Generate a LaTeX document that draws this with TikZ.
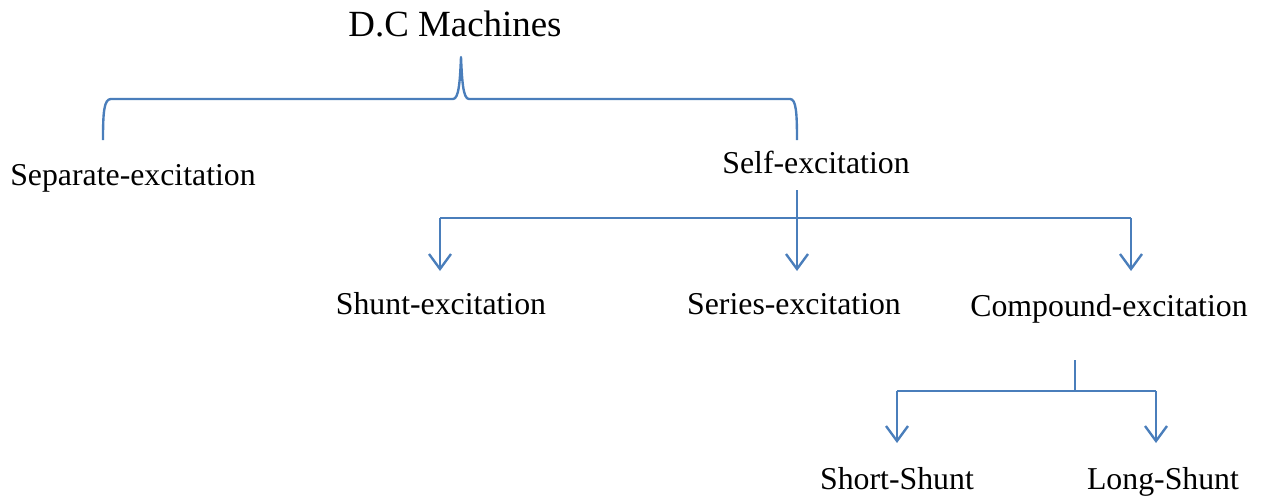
\documentclass[tikz,border=0pt]{standalone}
\usepackage{fontspec}
\setmainfont{Liberation Serif}
\usetikzlibrary{arrows.meta}
\definecolor{lineblue}{RGB}{74,126,187}
\tikzset{
  lbl/.style={font=\fontsize{18.1pt}{20pt}\selectfont, anchor=base, inner sep=0pt},
  ttl/.style={font=\fontsize{21pt}{24pt}\selectfont, anchor=base, inner sep=0pt},
  conn/.style={draw=lineblue, line width=1.35pt},
  arr/.style={conn, -{Straight Barb[length=3mm,width=4.4mm,line width=1.35pt]}}
}
\begin{document}
\begin{tikzpicture}[x=0.02cm,y=-0.02cm]
\useasboundingbox (0,0) rectangle (1264,498);
% texts
\node[ttl] (dc) at (455,36) {D.C Machines};
\node[lbl] (sep) at (133,185) {Separate-excitation};
\node[lbl] (self) at (816,173) {Self-excitation};
\node[lbl] (shunt) at (441,314) {Shunt-excitation};
\node[lbl] (series) at (794,314) {Series-excitation};
\node[lbl] (comp) at (1109,316) {Compound-excitation};
\node[lbl] (short) at (897,489) {Short-Shunt};
\node[lbl] (long) at (1163,489) {Long-Shunt};
% brace
\coordinate (btip) at (461,57);
\coordinate (bl) at (103,140);
\coordinate (br) at (797,140);
\draw[conn, line join=round] (bl) .. controls (103,112) and (104,99) .. (111,99)
  -- (453,99) .. controls (459,99) and (460,80) .. (btip)
  .. controls (462,80) and (463,99) .. (469,99)
  -- (790,99) .. controls (796,99) and (797,112) .. (br);
% self-excitation branches
\coordinate (sstem) at (797,190);
\coordinate (sj) at (797,218);
\coordinate (sl) at (440,218);
\coordinate (sr) at (1131,218);
\draw[conn] (sstem) -- (sj);
\draw[conn] (sl) -- (sr);
\draw[arr] (sl) -- (440,271);
\draw[arr] (sj) -- (797,271);
\draw[arr] (sr) -- (1131,271);
% compound branches
\coordinate (cstem) at (1075,360);
\coordinate (cj) at (1075,391);
\coordinate (cl) at (897,391);
\coordinate (cr) at (1156,391);
\draw[conn] (cstem) -- (cj);
\draw[conn] (cl) -- (cr);
\draw[arr] (cl) -- (897,443);
\draw[arr] (cr) -- (1156,443);
\end{tikzpicture}
\end{document}
